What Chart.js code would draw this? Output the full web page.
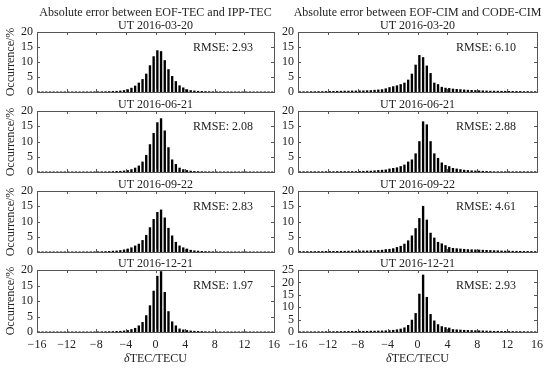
<!DOCTYPE html>
<html>
<head>
<meta charset="utf-8">
<script src="https://cdn.jsdelivr.net/npm/chart.js@4/dist/chart.umd.min.js"></script>
<style>
  html, body { margin:0; padding:0; background:#fff; }
  #wrap { position:relative; width:550px; height:369px; overflow:hidden; background:#fff; }
  canvas { position:absolute; left:0; top:0; }
  .t { position:absolute; font-family:"Liberation Serif","Times New Roman",serif; font-size:12px; color:#222; white-space:nowrap; transform:translate(-50%,-50%); line-height:1; }
  .r { position:absolute; font-family:"Liberation Serif","Times New Roman",serif; font-size:12px; color:#222; white-space:nowrap; transform:translate(0,-50%); line-height:1; }
  .yl { position:absolute; font-family:"Liberation Serif","Times New Roman",serif; font-size:12px; color:#222; white-space:nowrap; transform:translate(-50%,-50%) rotate(-90deg); line-height:1; }
</style>
</head>
<body>
<div id="wrap"></div>
<script>
// Bin centres (TECU)
const binCenters = [-15.75,-15.25,-14.75,-14.25,-13.75,-13.25,-12.75,-12.25,-11.75,-11.25,-10.75,-10.25,-9.75,-9.25,-8.75,-8.25,
  -7.75,-7.25,-6.75,-6.25,-5.75,-5.25,-4.75,-4.25,-3.75,-3.25,-2.75,-2.25,-1.75,-1.25,-0.75,-0.25,
  0.25,0.75,1.25,1.75,2.25,2.75,3.25,3.75,4.25,4.75,5.25,5.75,6.25,6.75,7.25,7.75,
  8.25,8.75,9.25,9.75,10.25,10.75,11.25,11.75,12.25,12.75,13.25,13.75,14.25,14.75,15.25,15.75];

const xTicks = [-16,-12,-8,-4,0,4,8,12,16];
const dates = ["UT 2016-03-20","UT 2016-06-21","UT 2016-09-22","UT 2016-12-21"];
const colTitles = ["Absolute error between EOF-TEC and IPP-TEC","Absolute error between EOF-CIM and CODE-CIM"];
const rmseTEC = ["2.93","2.08","2.83","1.97"];
const rmseCIM = ["6.10","2.88","4.61","2.93"];
const yMaxTEC = [20,20,20,20];
const yMaxCIM = [20,20,20,25];

// Occurrence (%) per bin
const tec0320 = [0.05,0.05,0.05,0.05,0.05,0.05,0.05,0.05,0.05,0.05,
  0.05,0.05,0.06,0.06,0.07,0.08,0.09,0.1,0.12,0.15,
  0.2,0.25,0.35,0.5,0.8,1.3,2.0,3.0,4.2,6.0,
  8.8,11.8,13.8,13.5,10.5,7.5,5.2,3.5,2.1,1.4,
  0.8,0.5,0.35,0.25,0.2,0.15,0.12,0.1,0.09,0.08,
  0.07,0.06,0.06,0.05,0.05,0.05,0.05,0.05,0.05,0.05,
  0.05,0.05,0.05,0.05];
const cim0320 = [0.1,0.1,0.1,0.12,0.12,0.15,0.15,0.18,0.2,0.22,
  0.25,0.28,0.3,0.3,0.35,0.35,0.4,0.4,0.45,0.5,
  0.6,0.7,0.8,1.1,1.5,1.8,2.1,2.5,3.0,4.0,
  6.0,9.0,12.2,11.5,8.7,6.2,3.0,2.5,1.6,1.3,
  1.2,1.0,0.9,0.8,0.7,0.6,0.55,0.5,0.45,0.4,
  0.35,0.3,0.3,0.28,0.25,0.25,0.22,0.2,0.2,0.18,
  0.15,0.15,0.12,0.12];
const tec0621 = [0.05,0.05,0.05,0.05,0.05,0.05,0.05,0.05,0.05,0.05,
  0.05,0.05,0.05,0.05,0.05,0.06,0.06,0.07,0.08,0.1,
  0.15,0.2,0.25,0.35,0.5,0.8,1.3,2.0,3.3,5.5,
  9.0,12.7,16.2,17.5,13.5,8.0,4.0,2.5,1.3,0.8,
  0.5,0.3,0.2,0.15,0.1,0.08,0.07,0.06,0.05,0.05,
  0.05,0.05,0.05,0.05,0.05,0.05,0.05,0.05,0.05,0.05,
  0.05,0.05,0.05,0.05];
const cim0621 = [0.1,0.1,0.1,0.1,0.1,0.1,0.1,0.12,0.12,0.12,
  0.15,0.15,0.15,0.15,0.15,0.15,0.2,0.25,0.3,0.3,
  0.4,0.5,0.6,0.7,1.0,1.2,1.4,1.8,2.3,3.3,
  4.0,6.0,10.0,16.5,15.5,10.0,6.0,4.5,3.0,2.2,
  1.8,1.2,1.0,0.8,0.6,0.5,0.4,0.35,0.3,0.25,
  0.2,0.15,0.1,0.1,0.1,0.1,0.1,0.1,0.1,0.1,
  0.1,0.1,0.1,0.1];
const tec0922 = [0.05,0.05,0.05,0.05,0.05,0.05,0.05,0.05,0.05,0.05,
  0.05,0.05,0.06,0.06,0.07,0.08,0.1,0.12,0.15,0.2,
  0.3,0.35,0.5,0.7,1.0,1.4,2.0,2.6,3.8,5.5,
  8.0,10.7,13.0,13.8,11.2,7.8,5.3,3.2,2.0,1.4,
  1.0,0.6,0.4,0.3,0.2,0.15,0.12,0.1,0.08,0.07,
  0.06,0.06,0.05,0.05,0.05,0.05,0.05,0.05,0.05,0.05,
  0.05,0.05,0.05,0.05];
const cim0922 = [0.15,0.15,0.15,0.15,0.15,0.18,0.18,0.2,0.2,0.22,
  0.22,0.25,0.25,0.28,0.3,0.3,0.32,0.35,0.35,0.4,
  0.45,0.5,0.6,0.8,0.9,1.1,1.5,1.9,2.6,3.7,
  5.3,7.7,11.0,15.0,10.5,6.2,4.6,3.2,2.7,2.1,
  1.5,1.2,1.1,1.0,0.9,0.8,0.75,0.7,0.65,0.6,
  0.55,0.5,0.45,0.4,0.35,0.3,0.3,0.25,0.25,0.22,
  0.2,0.2,0.18,0.15];
const tec1221 = [0.05,0.05,0.05,0.05,0.05,0.05,0.05,0.05,0.05,0.05,
  0.05,0.05,0.05,0.05,0.05,0.06,0.07,0.08,0.1,0.12,
  0.15,0.2,0.25,0.35,0.5,0.8,1.2,2.0,3.1,5.3,
  8.5,13.2,18.0,19.5,12.8,6.6,3.3,2.0,1.0,0.7,
  0.5,0.35,0.25,0.2,0.15,0.1,0.08,0.07,0.06,0.05,
  0.05,0.05,0.05,0.05,0.05,0.05,0.05,0.05,0.05,0.05,
  0.05,0.05,0.05,0.05];
const cim1221 = [0.1,0.1,0.1,0.1,0.1,0.12,0.12,0.15,0.15,0.18,
  0.2,0.2,0.22,0.25,0.25,0.28,0.3,0.3,0.3,0.35,
  0.35,0.4,0.45,0.5,0.6,0.7,0.9,1.2,1.7,2.7,
  4.8,7.5,15.3,23.0,14.0,7.1,4.5,3.0,2.2,1.8,
  1.6,1.0,0.9,0.8,0.7,0.65,0.6,0.55,0.5,0.45,
  0.4,0.35,0.3,0.3,0.25,0.25,0.2,0.2,0.18,0.15,
  0.15,0.12,0.12,0.1];

const seriesTEC = [tec0320, tec0621, tec0922, tec1221];
const seriesCIM = [cim0320, cim0621, cim0922, cim1221];

// ---- layout ----
const W = 550, H = 369;
const cols = [{L:37, R:274}, {L:298, R:537}];
const rows = [{T:32, B:92}, {T:111, B:172}, {T:191, B:252}, {T:270, B:332}];
const YW = 30;
const FONT = "Liberation Serif";
const TXT = "#222";
const AX = "#555";

const wrap = document.getElementById('wrap');

function addText(cls, txt, x, y, html) {
  const d = document.createElement('div');
  d.className = cls;
  if (html) d.innerHTML = txt; else d.textContent = txt;
  d.style.left = x + 'px';
  d.style.top = y + 'px';
  wrap.appendChild(d);
}

const boxPlugin = {
  id: 'matlabBox',
  afterDraw(chart) {
    const {ctx, chartArea:a, scales} = chart;
    ctx.save();
    ctx.strokeStyle = AX;
    ctx.lineWidth = 1;
    ctx.beginPath();
    const tl = 3;
    xTicks.forEach(v => {
      const px = Math.round(scales.x.getPixelForValue(v)) + 0.5;
      ctx.moveTo(px, a.bottom); ctx.lineTo(px, a.bottom - tl);
      ctx.moveTo(px, a.top); ctx.lineTo(px, a.top + tl);
    });
    scales.y.ticks.forEach(t => {
      const py = Math.round(scales.y.getPixelForValue(t.value)) + 0.5;
      ctx.moveTo(a.left, py); ctx.lineTo(a.left + tl, py);
      ctx.moveTo(a.right, py); ctx.lineTo(a.right - tl, py);
    });
    ctx.stroke();
    ctx.strokeRect(Math.round(a.left) + 0.5, Math.round(a.top) + 0.5,
                   Math.round(a.right - a.left), Math.round(a.bottom - a.top));
    ctx.restore();
  }
};

function makePanel(col, row, values, yMax) {
  const c = cols[col], r = rows[row];
  const bottomRow = row === 3;
  const XH = bottomRow ? 22 : 0;
  const cv = document.createElement('canvas');
  cv.width = W; cv.height = H;
  cv.style.width = W + 'px'; cv.style.height = H + 'px';
  wrap.appendChild(cv);
  new Chart(cv, {
    type: 'bar',
    data: {
      datasets: [{
        data: binCenters.map((x, i) => ({x: x, y: values[i]})),
        backgroundColor: '#000',
        borderWidth: 0,
        barThickness: 1.7
      }]
    },
    options: {
      responsive: false,
      animation: false,
      devicePixelRatio: 1,
      layout: { padding: { left: c.L - YW, right: W - c.R, top: r.T, bottom: H - r.B - XH } },
      plugins: { legend: {display:false}, tooltip: {enabled:false}, title: {display:false} },
      scales: {
        x: {
          type: 'linear', min: -16, max: 16, offset: false,
          grid: { display:false, drawTicks:false },
          border: { display:false },
          ticks: {
            display: bottomRow, stepSize: 4, padding: 6, autoSkip: false, maxRotation: 0,
            color: TXT, font: { family: FONT, size: 12 },
            callback: v => (v < 0 ? '\u2212' : '') + Math.abs(v)
          },
          afterFit: s => { s.height = XH; }
        },
        y: {
          min: 0, max: yMax,
          grid: { display:false, drawTicks:false },
          border: { display:false },
          ticks: { stepSize: 5, padding: 4, autoSkip: false, color: TXT, font: { family: FONT, size: 12 } },
          afterFit: s => { s.width = YW; }
        }
      }
    },
    plugins: [boxPlugin]
  });
}

for (let row = 0; row < 4; row++) {
  makePanel(0, row, seriesTEC[row], yMaxTEC[row]);
  makePanel(1, row, seriesCIM[row], yMaxCIM[row]);
}

// Texts
addText('t', colTitles[0], (cols[0].L + cols[0].R) / 2, 12);
addText('t', colTitles[1], (cols[1].L + cols[1].R) / 2, 12);
for (let row = 0; row < 4; row++) {
  const r = rows[row];
  addText('t', dates[row], (cols[0].L + cols[0].R) / 2, r.T - 7);
  addText('t', dates[row], (cols[1].L + cols[1].R) / 2, r.T - 7);
  addText('r', 'RMSE: ' + rmseTEC[row], 193, r.T + 15);
  addText('r', 'RMSE: ' + rmseCIM[row], 456, r.T + 15);
  addText('yl', 'Occurrence/%', 10, (r.T + r.B) / 2);
}
addText('t', '<i>δ</i>TEC/TECU', (cols[0].L + cols[0].R) / 2, 358, true);
addText('t', '<i>δ</i>TEC/TECU', (cols[1].L + cols[1].R) / 2, 358, true);
</script>
</body>
</html>
